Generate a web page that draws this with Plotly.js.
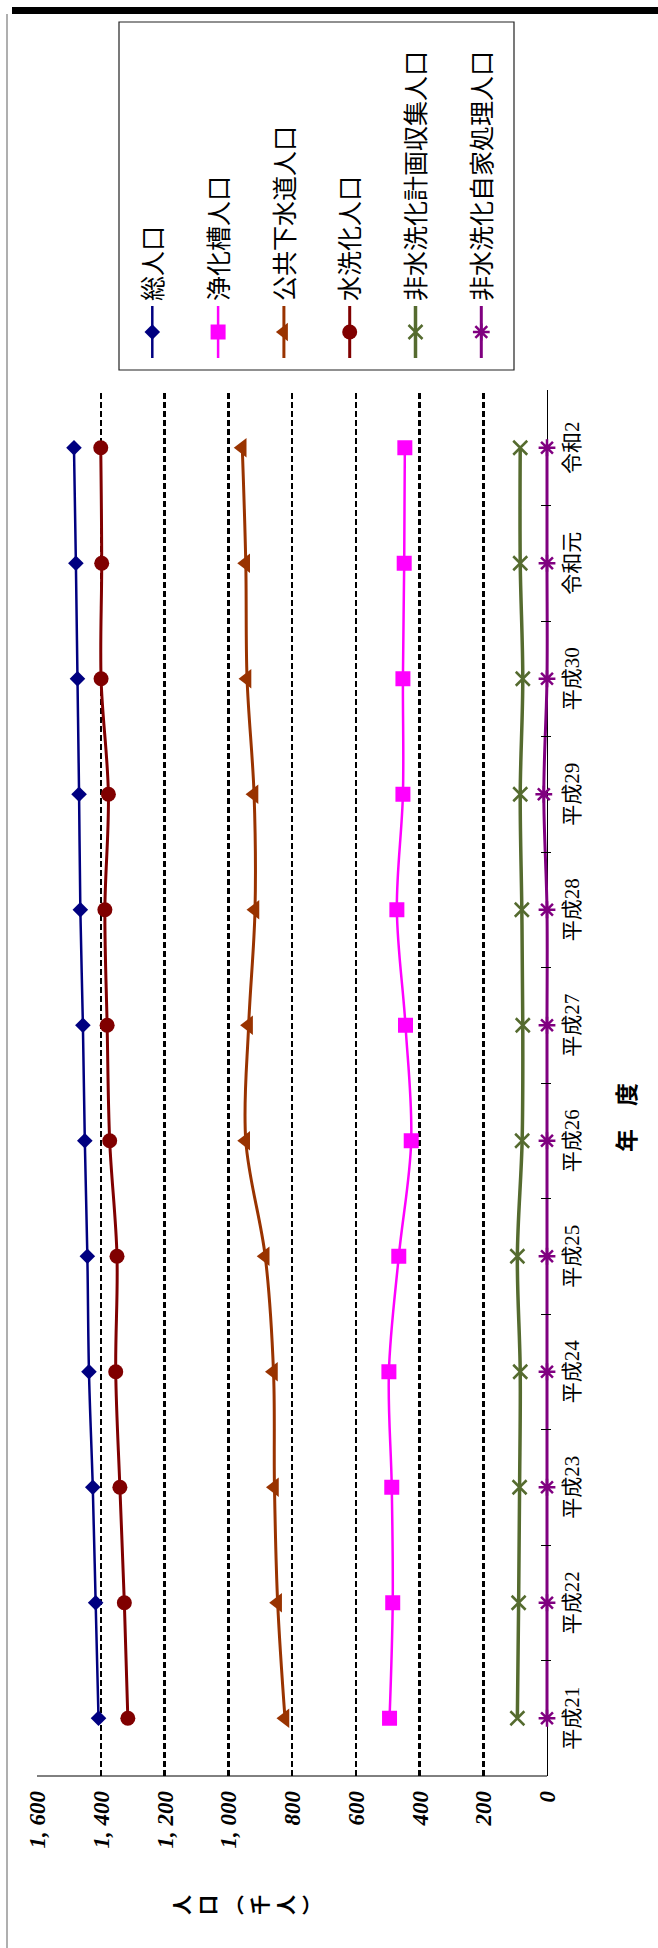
<!DOCTYPE html>
<html>
<head>
<meta charset="utf-8">
<script src="https://cdn.plot.ly/plotly-3.0.1.min.js"></script>
<style>
  html, body { margin: 0; padding: 0; background: #fff; overflow: hidden; width: 658px; height: 1948px; }
  /* the chart is laid out landscape and turned a quarter turn counter-clockwise */
  #chart { position: absolute; left: 0; top: 0; width: 1948px; height: 658px;
           transform-origin: 0 0; transform: translate(0, 1948px) rotate(-90deg); }
</style>
</head>
<body>
<div id="chart"></div>
<script>
// 年度
const years = ['平成21', '平成22', '平成23', '平成24', '平成25', '平成26',
               '平成27', '平成28', '平成29', '平成30', '令和元', '令和2'];

// 人口（千人）
const totalPop      = [1407, 1416, 1425, 1437, 1442, 1450, 1456, 1464, 1468, 1473, 1478, 1484];
const septicPop     = [494, 484, 487, 496, 465, 426, 444, 471, 452, 452, 448, 446];
const sewerPop      = [822, 845, 855, 858, 884, 945, 936, 916, 919, 941, 945, 956];
const flushPop      = [1315, 1326, 1340, 1353, 1349, 1372, 1380, 1387, 1376, 1399, 1397, 1400];
const collectPop    = [93, 89, 86, 84, 93, 78, 76, 79, 84, 76, 84, 84];
const selfTreatPop  = [0, 0, 0, 0, 0, 0, 0, 0, 10, 0, 0, 0];

const seriesNames = ['総人口', '浄化槽人口', '公共下水道人口', '水洗化人口',
                     '非水洗化計画収集人口', '非水洗化自家処理人口'];

// value axis ticks
const valueTicks  = [0, 200, 400, 600, 800, 1000, 1200, 1400, 1600];
const valueLabels = ['0', '200', '400', '600', '800', '1, 000', '1, 200', '1, 400', '1, 600'];

// landscape canvas geometry (before rotation)
const W = 1948, H = 658;
const M = { l: 172, r: 390, t: 37, b: 107 };
const PW = W - M.l - M.r, PH = H - M.t - M.b;
const px2x = u => (u - M.l) / PW;
const px2y = v => (H - M.b - v) / PH;
// a little room under zero so the zero-level series is not cut by the plot edge
const yMin = -4 * 1600 / (PH - 4);

const JP = 'Noto Sans CJK JP';

function series(name, y, color, width, symbol, size, open) {
  const marker = { symbol: symbol, size: size, color: color };
  marker.line = open ? { color: color, width: 2.5 } : { width: 0 };
  return {
    type: 'scatter', mode: 'lines+markers', name: name, legendgroup: name,
    x: years, y: y, cliponaxis: false,
    line: { color: color, width: width, shape: 'spline', smoothing: 1 },
    marker: marker
  };
}

const data = [
  series(seriesNames[0], totalPop,     '#000080', 2.5, 'diamond',       12, false),
  series(seriesNames[1], septicPop,    '#FF00FF', 2.5, 'square',        15, false),
  series(seriesNames[2], sewerPop,     '#993300', 3,   'triangle-up',   17, false),
  series(seriesNames[3], flushPop,     '#800000', 3,   'circle',        15, false),
  series(seriesNames[4], collectPop,   '#556B2F', 3.5, 'x-thin-open',   14, true),
  series(seriesNames[5], selfTreatPop, '#800080', 3,   'asterisk-open', 14, true)
];

const legendFirst = { u: 1616, v: 152.3 };   // first legend symbol
const legendStep = 65.8;                      // distance between legend entries

const layout = {
  width: W, height: H,
  margin: M,
  paper_bgcolor: '#fff', plot_bgcolor: '#fff',
  showlegend: true,
  font: { family: JP, color: '#000' },
  xaxis: {
    type: 'category', range: [-0.5, 11.5], fixedrange: true,
    showline: false,
    ticks: 'inside', ticklen: 10, tickcolor: '#000', tickson: 'boundaries',
    showgrid: false, zeroline: false,
    tickfont: { family: 'Liberation Serif, ' + JP, size: 21, color: '#000' },
    ticklabelstandoff: 6
  },
  yaxis: {
    range: [yMin, 1600], fixedrange: true,
    tickmode: 'array', tickvals: valueTicks, ticktext: valueLabels,
    showline: false,
    ticks: 'inside', ticklen: 6, tickcolor: '#000',
    showgrid: true, gridcolor: '#000', gridwidth: 2.5, griddash: '6px,3px',
    zeroline: true, zerolinecolor: '#000', zerolinewidth: 1,
    tickfont: { family: 'Liberation Serif', size: 23, weight: 'bold', style: 'italic', color: '#000' },
    ticklabelstandoff: 14
  },
  legend: {
    x: px2x(legendFirst.u - 30), y: px2y(legendFirst.v - 18), xanchor: 'left', yanchor: 'top',
    bgcolor: 'rgba(0,0,0,0)', borderwidth: 0, itemwidth: 52,
    traceorder: 'grouped', tracegroupgap: 31,
    font: { family: JP, size: 25, color: '#000' }
  },
  annotations: [
    { text: '年　度', xref: 'paper', yref: 'paper', x: px2x(830), y: px2y(625),
      xanchor: 'center', yanchor: 'middle', showarrow: false,
      font: { family: JP, size: 23, weight: 'bold', color: '#000' } },
    { text: '人<br>口<br>︵<br>千<br>人<br>︶', xref: 'paper', yref: 'paper',
      x: px2x(43), y: px2y(246), xanchor: 'center', yanchor: 'middle', showarrow: false,
      font: { family: JP, size: 20, weight: 'bold', color: '#000' } }
  ],
  shapes: [
    // value axis line, from zero to the top of the scale
    { type: 'line', xref: 'paper', yref: 'y', x0: 0, x1: 0, y0: 0, y1: 1600,
      line: { color: '#000', width: 1 } },
    // legend frame
    { type: 'rect', xref: 'paper', yref: 'paper', x0: px2x(1578), x1: px2x(1926),
      y0: px2y(119), y1: px2y(514), line: { color: '#222', width: 1.2 }, fillcolor: 'rgba(0,0,0,0)' },
    // outer frame: thin rule and heavy rule
    { type: 'line', xref: 'paper', yref: 'paper', x0: px2x(0), x1: px2x(1934),
      y0: px2y(7), y1: px2y(7), line: { color: '#7a7a7a', width: 1.2 } },
    { type: 'rect', xref: 'paper', yref: 'paper', x0: px2x(1934), x1: px2x(1941),
      y0: px2y(12), y1: px2y(H), line: { width: 0 }, fillcolor: '#000' }
  ]
};

const gd = document.getElementById('chart');

// centre of a legend symbol, in the landscape frame (u to the right, v downward)
function symbolCentre(el) {
  const r = el.getBoundingClientRect();
  return { u: W - (r.top + r.height / 2), v: r.left + r.width / 2 };
}

Plotly.newPlot(gd, data, layout, { staticPlot: true, displayModeBar: false }).then(() => {
  const groups = gd.querySelectorAll('.legend .traces .legendpoints');
  if (groups.length < 2) return;
  const a = symbolCentre(groups[0]);
  const b = symbolCentre(groups[groups.length - 1]);
  const step = (b.v - a.v) / (groups.length - 1);
  return Plotly.relayout(gd, {
    'legend.x': layout.legend.x + (legendFirst.u - a.u) / PW,
    'legend.y': layout.legend.y - (legendFirst.v - a.v) / PH,
    'legend.tracegroupgap': layout.legend.tracegroupgap + (legendStep - step)
  });
});
</script>
</body>
</html>
